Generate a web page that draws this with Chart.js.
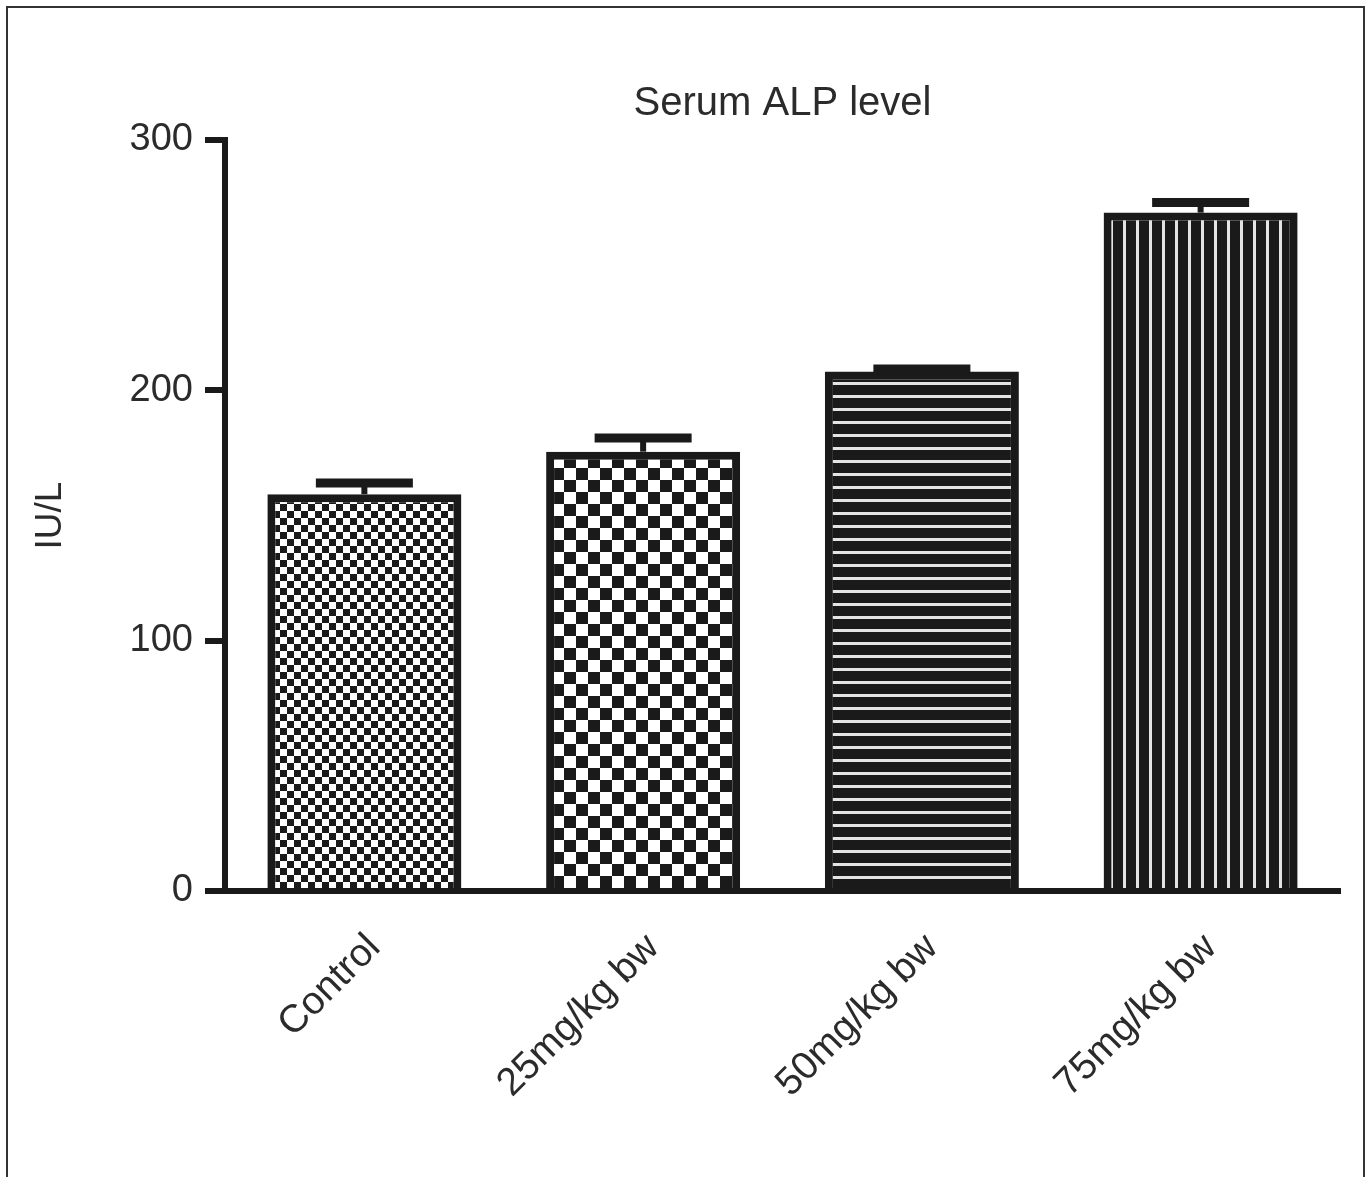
<!DOCTYPE html>
<html>
<head>
<meta charset="utf-8">
<title>Serum ALP level</title>
<script src="https://cdn.jsdelivr.net/npm/chart.js@4.4.0/dist/chart.umd.min.js"></script>
<style>
  html, body { margin: 0; padding: 0; background: #fff; }
  #wrap { position: relative; width: 1366px; height: 1177px; overflow: hidden; }
  #frame { position: absolute; left: 6px; top: 6px; width: 1359px; height: 1200px; box-sizing: border-box; border: 2px solid #333; border-bottom: none; }
  #chart { position: absolute; left: 0; top: 0; }
</style>
</head>
<body>
<div id="wrap">
  <div id="frame"></div>
  <canvas id="chart" width="1366" height="1177"></canvas>
</div>
<script>
// data
const categories = ['Control', '25mg/kg bw', '50mg/kg bw', '75mg/kg bw'];
const alpMeans = [158.5, 175.5, 207.5, 271];
const alpErrors = [4.5, 5.5, 1, 4];
const yTicks = [0, 100, 200, 300];
const titleText = 'Serum ALP level';
const yTitle = 'IU/L';

const INK = '#1a1a1a';
const TEXT = '#2b2b2b';
Chart.defaults.font.family = '"Liberation Sans", Arial, sans-serif';

const canvas = document.getElementById('chart');

// small tile -> repeating canvas pattern
function makePattern(w, h, draw) {
  const c = document.createElement('canvas');
  c.width = w;
  c.height = h;
  draw(c.getContext('2d'), w, h);
  return canvas.getContext('2d').createPattern(c, 'repeat');
}

const fineChecker = makePattern(14, 14, (g, w, h) => {
  g.fillStyle = '#fff'; g.fillRect(0, 0, w, h);
  g.fillStyle = INK; g.fillRect(0, 0, 7, 7); g.fillRect(7, 7, 7, 7);
});
const coarseChecker = makePattern(24, 24, (g, w, h) => {
  g.fillStyle = '#fff'; g.fillRect(0, 0, w, h);
  g.fillStyle = INK; g.fillRect(12, 0, 12, 12); g.fillRect(0, 12, 12, 12);
});
const hLines = makePattern(13, 13, (g, w, h) => {
  g.fillStyle = INK; g.fillRect(0, 0, w, h);
  g.fillStyle = '#e4e4e4'; g.fillRect(0, 5, w, 3);
});
const vLines = makePattern(13, 13, (g, w, h) => {
  g.fillStyle = INK; g.fillRect(0, 0, w, h);
  g.fillStyle = '#e4e4e4'; g.fillRect(5, 0, 3, h);
});

// mean + SEM bars (upper only)
const errorBars = {
  id: 'errorBars',
  afterDatasetsDraw(chart) {
    const ctx = chart.ctx;
    const y = chart.scales.y;
    const meta = chart.getDatasetMeta(0);
    ctx.save();
    ctx.strokeStyle = INK;
    ctx.lineCap = 'butt';
    meta.data.forEach((bar, i) => {
      const top = y.getPixelForValue(alpMeans[i] + alpErrors[i]);
      const half = bar.width * 0.25;
      ctx.lineWidth = 6;
      ctx.beginPath();
      ctx.moveTo(bar.x, bar.y);
      ctx.lineTo(bar.x, top);
      ctx.stroke();
      ctx.lineWidth = 9;
      ctx.beginPath();
      ctx.moveTo(bar.x - half, top);
      ctx.lineTo(bar.x + half, top);
      ctx.stroke();
    });
    ctx.restore();
  }
};

// title centred over the plot area, not the canvas
const plotTitle = {
  id: 'plotTitle',
  afterDraw(chart) {
    const { ctx, chartArea } = chart;
    ctx.save();
    ctx.font = '40px "Liberation Sans", Arial, sans-serif';
    ctx.fillStyle = TEXT;
    ctx.textAlign = 'center';
    ctx.textBaseline = 'alphabetic';
    ctx.fillText(titleText, (chartArea.left + chartArea.right) / 2, 115);
    ctx.restore();
  }
};

new Chart(canvas, {
  type: 'bar',
  data: {
    labels: categories,
    datasets: [{
      data: alpMeans,
      backgroundColor: [fineChecker, coarseChecker, hLines, vLines],
      borderColor: INK,
      borderWidth: 8,
      borderSkipped: 'start',
      barPercentage: 0.696,
      categoryPercentage: 1
    }]
  },
  options: {
    responsive: false,
    animation: false,
    layout: { padding: { top: 140, right: 26, bottom: 0, left: 0 } },
    plugins: {
      legend: { display: false },
      tooltip: { enabled: false },
      title: { display: false }
    },
    scales: {
      x: {
        grid: { display: false },
        border: { display: true, width: 6, color: INK },
        ticks: {
          color: TEXT,
          font: { size: 39 },
          minRotation: 45,
          maxRotation: 45,
          padding: 26,
          labelOffset: 10
        },
        afterFit(scale) { scale.height = 286; }
      },
      y: {
        min: 0,
        max: 300,
        afterBuildTicks(scale) { scale.ticks = yTicks.map(v => ({ value: v })); },
        grid: { drawOnChartArea: false, drawTicks: true, tickLength: 20, lineWidth: 6, color: INK },
        border: { display: true, width: 6, color: INK },
        ticks: { color: TEXT, font: { size: 38 }, padding: 12 },
        title: {
          display: true,
          text: yTitle,
          color: TEXT,
          font: { size: 37 },
          padding: { top: 29, bottom: 0 }
        },
        afterFit(scale) { scale.width = 225; }
      }
    }
  },
  plugins: [errorBars, plotTitle]
});
</script>
</body>
</html>
